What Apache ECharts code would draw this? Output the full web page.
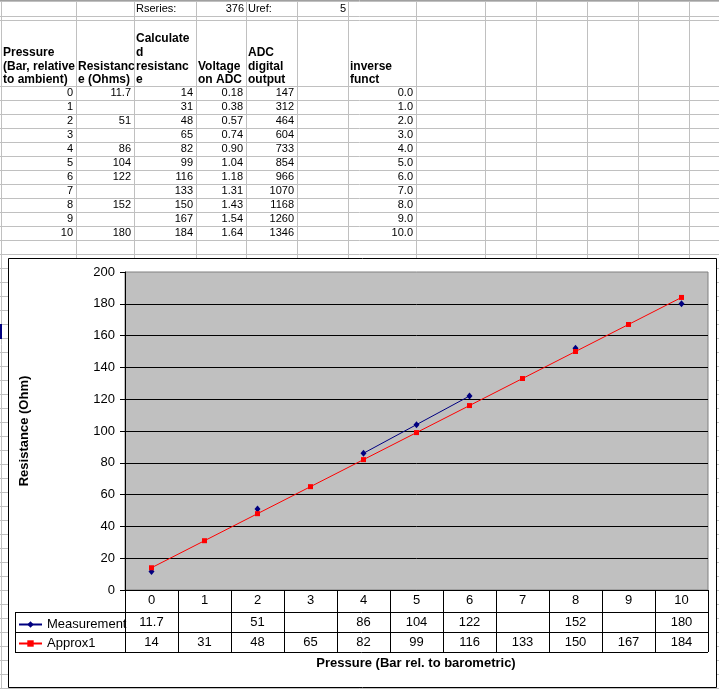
<!DOCTYPE html>
<html>
<head>
<meta charset="utf-8">
<title>Pressure sensor sheet</title>
<script src="https://cdn.jsdelivr.net/npm/echarts@6.0.0/dist/echarts.min.js"></script>
<style>
  html, body { margin: 0; padding: 0; background: #fff; }
  #main { width: 719px; height: 689px; }
</style>
</head>
<body>
<div id="main"></div>
<script>
// sheet values
const pressure = [0, 1, 2, 3, 4, 5, 6, 7, 8, 9, 10]
const measured = [11.7, null, 51, null, 86, 104, 122, null, 152, null, 180]
const calcRes = [14, 31, 48, 65, 82, 99, 116, 133, 150, 167, 184]
const voltage = [0.18, 0.38, 0.57, 0.74, 0.90, 1.04, 1.18, 1.31, 1.43, 1.54, 1.64]
const adcOut = [147, 312, 464, 604, 733, 854, 966, 1070, 1168, 1260, 1346]
const inverseFunct = [0, 1, 2, 3, 4, 5, 6, 7, 8, 9, 10]
const rSeries = 376
const uRef = 5
// header cells (wrapped as in excel)
const hdrPressure = ['Pressure', '(Bar, relative', 'to ambient)']
const hdrResist = ['Resistanc', 'e (Ohms)']
const hdrCalc = ['Calculate', 'd', 'resistanc', 'e']
const hdrVolt = ['Voltage', 'on ADC']
const hdrAdc = ['ADC', 'digital', 'output']
const hdrInv = ['inverse', 'funct']
// chart axis
const yMin = 0
const yMax = 200
const yStep = 20
const seriesNames = ['Measurement', 'Approx1']

const FONT = '"Liberation Sans", Arial, sans-serif'
// spreadsheet geometry
const colX = [1, 76, 134, 196, 246, 297, 348, 416, 485, 536, 587, 638, 689]
const rowY = [1, 16, 20, 86]
for (let y = 100; y < 689; y += 14) rowY.push(y)

const chart = echarts.init(document.getElementById('main'), null, { renderer: 'canvas' })

const option = {
  animation: false,
  backgroundColor: '#ffffff',
  grid: {
    left: 125, top: 272, width: 583, height: 318,
    show: true, backgroundColor: '#c0c0c0', borderColor: '#808080', borderWidth: 1, z: 2
  },
  legend: {
    data: seriesNames,
    orient: 'vertical',
    left: 18, top: 618,
    padding: 0,
    itemWidth: 23, itemHeight: 8, itemGap: 6,
    textStyle: { fontFamily: FONT, fontSize: 13, color: '#000' },
    z: 6
  },
  xAxis: {
    type: 'category',
    data: pressure.map(String),
    boundaryGap: true,
    z: 3,
    axisLine: { lineStyle: { color: '#000', width: 1 } },
    axisTick: { show: true, length: 62, alignWithLabel: false, lineStyle: { color: '#000' } },
    axisLabel: { margin: 4, fontFamily: FONT, fontSize: 13, color: '#000', interval: 0 },
    splitLine: { show: false }
  },
  yAxis: {
    type: 'value',
    min: yMin, max: yMax, interval: yStep,
    z: 3,
    axisLine: { show: true, lineStyle: { color: '#000' } },
    axisTick: { show: true, length: 5, lineStyle: { color: '#000' } },
    axisLabel: { margin: 10, fontFamily: FONT, fontSize: 13, color: '#000' },
    splitLine: { show: true, showMaxLine: false, lineStyle: { color: '#000', width: 1 } }
  },
  series: [
    {
      name: 'Measurement',
      type: 'line',
      data: measured,
      connectNulls: false,
      symbol: 'diamond',
      symbolSize: [6, 7],
      color: '#000080',
      lineStyle: { color: '#000080', width: 1 },
      itemStyle: { color: '#000080' },
      z: 4
    },
    {
      name: 'Approx1',
      type: 'line',
      data: calcRes,
      symbol: 'rect',
      symbolSize: 5,
      color: '#ff0000',
      lineStyle: { color: '#ff0000', width: 1 },
      itemStyle: { color: '#ff0000' },
      z: 5
    }
  ]
}
chart.setOption(option)

// graphic helpers
const els = []
const addLine = (x1, y1, x2, y2, color, z) => {
  els.push({ type: 'line', silent: true, z: z, shape: { x1, y1, x2, y2 }, style: { stroke: color, lineWidth: 1 } })
}
const addText = (x, y, str, align, z, opts) => {
  const o = opts || {}
  els.push({
    type: 'text', silent: true, z: z, x: x, y: y, rotation: o.rotation || 0,
    style: {
      text: str, fill: '#000', fontFamily: FONT,
      fontSize: o.size || 11, fontWeight: o.bold ? 'bold' : 'normal',
      align: align, verticalAlign: 'middle'
    }
  })
}

// spreadsheet gridlines
colX.forEach(x => addLine(x + 0.5, 0, x + 0.5, 689, '#c0c0c0', 0))
rowY.forEach(y => addLine(0, y + 0.5, 719, y + 0.5, '#c0c0c0', 0))
addLine(0, 0.5, 719, 0.5, '#a0a0a0', 0)
els.push({ type: 'rect', silent: true, z: 0, shape: { x: 0, y: 324, width: 2, height: 15 }, style: { fill: '#000080' } })

// first row
addText(136, 9, 'Rseries:', 'left', 1)
addText(colX[4] - 2, 9, String(rSeries), 'right', 1)
addText(colX[4] + 2, 9, 'Uref:', 'left', 1)
addText(colX[6] - 2, 9, String(uRef), 'right', 1)

// header block, bottom aligned
const putHeader = (lines, col) => {
  const n = lines.length
  lines.forEach((t, i) => addText(colX[col] + 2, 80 - (n - 1 - i) * 13.7, t, 'left', 1, { bold: true, size: 12 }))
}
putHeader(hdrPressure, 0)
putHeader(hdrResist, 1)
putHeader(hdrCalc, 2)
putHeader(hdrVolt, 3)
putHeader(hdrAdc, 4)
putHeader(hdrInv, 6)

// numeric rows
pressure.forEach((p, i) => {
  const y = 93 + i * 14
  addText(colX[1] - 3, y, String(p), 'right', 1)
  if (measured[i] != null) addText(colX[2] - 3, y, String(measured[i]), 'right', 1)
  addText(colX[3] - 3, y, String(calcRes[i]), 'right', 1)
  addText(colX[4] - 3, y, voltage[i].toFixed(2), 'right', 1)
  addText(colX[5] - 3, y, String(adcOut[i]), 'right', 1)
  addText(colX[7] - 3, y, inverseFunct[i].toFixed(1), 'right', 1)
})

// chart area box
els.push({
  type: 'rect', silent: true, z: 1,
  shape: { x: 8.5, y: 258.5, width: 708, height: 429 },
  style: { fill: '#ffffff', stroke: '#000', lineWidth: 1 }
})

// data table under the plot
const tblLeft = 15
const tblRight = 708
const rowA = 612, rowB = 632, rowC = 652
addLine(tblLeft, rowA + 0.5, tblRight, rowA + 0.5, '#000', 6)
addLine(tblLeft, rowB + 0.5, tblRight, rowB + 0.5, '#000', 6)
addLine(tblLeft, rowC + 0.5, tblRight, rowC + 0.5, '#000', 6)
addLine(tblLeft + 0.5, rowA, tblLeft + 0.5, rowC, '#000', 6)
pressure.forEach((p, i) => {
  const cx = chart.convertToPixel({ xAxisIndex: 0 }, String(p))
  if (measured[i] != null) addText(cx, (rowA + rowB) / 2, String(measured[i]), 'center', 6, { size: 13 })
  addText(cx, (rowB + rowC) / 2, String(calcRes[i]), 'center', 6, { size: 13 })
})

// axis titles
addText(416, 663, 'Pressure (Bar rel. to barometric)', 'center', 6, { size: 13, bold: true })
addText(24, 431, 'Resistance (Ohm)', 'center', 6, { size: 13, bold: true, rotation: Math.PI / 2 })

chart.setOption({ graphic: { elements: els } })
</script>
</body>
</html>
